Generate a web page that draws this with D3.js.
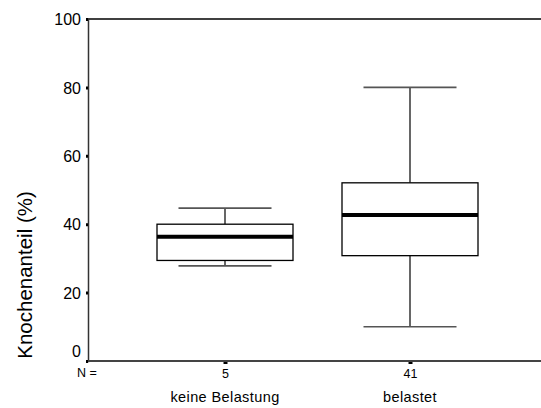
<!DOCTYPE html>
<html>
<head>
<meta charset="utf-8">
<script src="https://cdn.jsdelivr.net/npm/d3@7"></script>
<style>
  body { margin: 0; background: #fff; }
  text { font-family: "Liberation Sans", Arial, sans-serif; fill: #000; }
</style>
</head>
<body>
<div id="chart"></div>
<script>
// groups and their box statistics
let groups = ['keine Belastung', 'belastet'];
let counts = [5, 41];
let whiskerLow = [27.8, 10.0];
let q1 = [29.4, 30.8];
let median = [36.3, 42.7];
let q3 = [40.0, 52.1];
let whiskerHigh = [44.7, 80.0];
let yTicks = [0, 20, 40, 60, 80, 100];

const width = 541, height = 408;
const margin = ({top: 19, right: 0, bottom: 47, left: 88});

let svg = d3.select('#chart').append('svg')
  .attr('width', width)
  .attr('height', height);

let x = d3.scalePoint()
  .domain(groups)
  .range([225, 410]);

let y = d3.scaleLinear()
  .domain([0, 100])
  .range([height - margin.bottom, margin.top]);

let boxes = groups.map((g, i) => ({
  name: g, n: counts[i], lo: whiskerLow[i], q1: q1[i],
  med: median[i], q3: q3[i], hi: whiskerHigh[i]
}));

const boxW = 136, capW = 93;

// top frame line
svg.append('line')
  .attr('x1', margin.left).attr('x2', width)
  .attr('y1', y(100)).attr('y2', y(100))
  .attr('stroke', '#000').attr('stroke-width', 1.5);

// y axis
let yAxis = d3.axisLeft(y).tickValues(yTicks).tickSize(2).tickPadding(5);
let gy = svg.append('g')
  .attr('transform', `translate(${margin.left},0)`)
  .call(yAxis);
gy.select('.domain').attr('stroke', '#333').attr('stroke-width', 1.5);
gy.selectAll('.tick line').attr('stroke', '#000').attr('stroke-width', 3);
gy.selectAll('.tick text')
  .style('font-size', '16px')
  .attr('dy', '0.36em');
// the 0 label sits a bit higher, clear of the N row
gy.selectAll('.tick text').filter(d => d === 0).attr('y', -10);

// x axis
let xAxis = d3.axisBottom(x).tickSize(2).tickFormat((d, i) => counts[i]).tickPadding(6.5);
let gx = svg.append('g')
  .attr('transform', `translate(0,${y(0)})`)
  .call(xAxis);
gx.select('.domain')
  .attr('d', `M${margin.left},0H${width}`)
  .attr('stroke', '#444').attr('stroke-width', 2);
gx.selectAll('.tick line').attr('stroke', '#000').attr('stroke-width', 4).attr('y1', 1).attr('y2', 3);
gx.selectAll('.tick text').style('font-size', '12.5px');

// N = label
svg.append('text')
  .attr('x', 77).attr('y', y(0) + 16)
  .style('font-size', '12.5px')
  .text('N =');

// category labels
svg.selectAll('text.catlabel')
  .data(groups)
  .enter().append('text')
  .attr('class', 'catlabel')
  .attr('text-anchor', 'middle')
  .attr('x', d => x(d))
  .attr('y', 402)
  .style('font-size', '14.5px')
  .style('letter-spacing', '0.4px')
  .text(d => d);

// y axis label
svg.append('text')
  .attr('text-anchor', 'middle')
  .attr('transform', `translate(32,${275}) rotate(-90)`)
  .style('font-size', '20.5px')
  .text('Knochenanteil (%)');

// boxes
let bg = svg.selectAll('g.box')
  .data(boxes)
  .enter().append('g')
  .attr('class', 'box');

bg.append('line')
  .attr('x1', d => x(d.name)).attr('x2', d => x(d.name))
  .attr('y1', d => y(d.hi)).attr('y2', d => y(d.q3))
  .attr('stroke', '#000').attr('stroke-width', 1.2);
bg.append('line')
  .attr('x1', d => x(d.name)).attr('x2', d => x(d.name))
  .attr('y1', d => y(d.q1)).attr('y2', d => y(d.lo))
  .attr('stroke', '#000').attr('stroke-width', 1.2);

bg.append('line')
  .attr('x1', d => x(d.name) - capW / 2).attr('x2', d => x(d.name) + capW / 2)
  .attr('y1', d => y(d.hi)).attr('y2', d => y(d.hi))
  .attr('stroke', '#555').attr('stroke-width', 1.6);
bg.append('line')
  .attr('x1', d => x(d.name) - capW / 2).attr('x2', d => x(d.name) + capW / 2)
  .attr('y1', d => y(d.lo)).attr('y2', d => y(d.lo))
  .attr('stroke', '#555').attr('stroke-width', 1.6);

bg.append('rect')
  .attr('x', d => x(d.name) - boxW / 2)
  .attr('width', boxW)
  .attr('y', d => y(d.q3))
  .attr('height', d => y(d.q1) - y(d.q3))
  .attr('fill', '#fff')
  .attr('stroke', '#000').attr('stroke-width', 1.3);

bg.append('line')
  .attr('x1', d => x(d.name) - boxW / 2).attr('x2', d => x(d.name) + boxW / 2)
  .attr('y1', d => y(d.med)).attr('y2', d => y(d.med))
  .attr('stroke', '#000').attr('stroke-width', 4);
</script>
</body>
</html>
